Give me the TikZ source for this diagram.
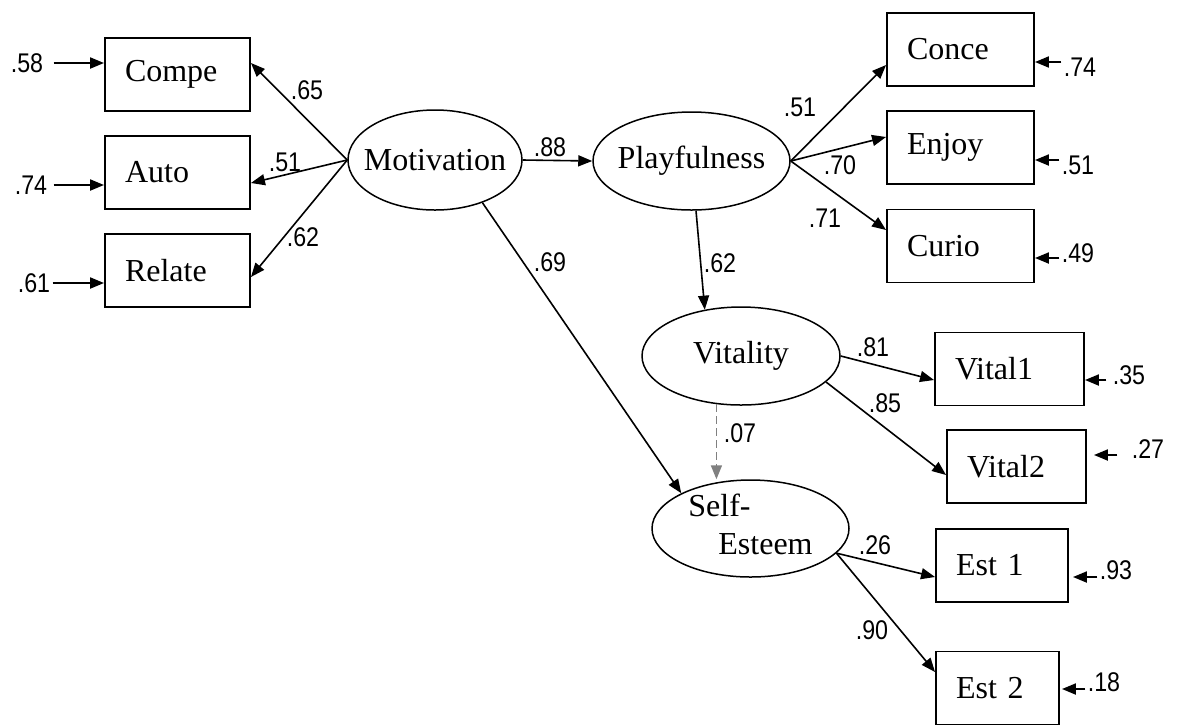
\documentclass[tikz,border=0pt]{standalone}
\usepackage{fontspec}
\setmainfont{Liberation Serif}
\newfontfamily\numfont[FakeStretch=0.86]{Liberation Sans}
\usetikzlibrary{arrows.meta,shapes.geometric,calc}
\begin{document}
\begin{tikzpicture}[x=0.5pt,y=-0.5pt,
  font=\fontsize{16}{19}\selectfont,
  box/.style={draw, rectangle, line width=0.95pt, minimum height=36.5pt, inner xsep=10pt, inner ysep=0pt, align=left},
  latent/.style={draw, ellipse, line width=0.75pt, inner sep=0pt},
  num/.style={font=\numfont\fontsize{13.5}{15}\selectfont, inner sep=1pt},
  arr/.style={-{Triangle[length=7pt,width=5.5pt]}, line width=0.8pt},
  err/.style={-{Triangle[length=7pt,width=5.5pt]}, line width=1pt},
]
\useasboundingbox (0,0) rectangle (1177,725);

% observed variables
\node[box, text width=52.5pt] (Compe)  at (177.5,74.5)  {Compe};
\node[box, text width=52.5pt] (Auto)   at (177.5,172.5) {Auto};
\node[box, text width=52.5pt] (Relate) at (177.5,270.5) {Relate};
\node[box, text width=53.5pt] (Conce)  at (960.5,49.5)  {Conce};
\node[box, text width=53.5pt] (Enjoy)  at (960.5,147.5) {Enjoy};
\node[box, text width=53.5pt] (Curio)  at (960.5,246)   {Curio};
\node[box, text width=54.5pt] (Vital1) at (1009.5,369)  {Vital1};
\node[box, text width=49.5pt] (Vital2) at (1016.5,466.5) {Vital2};
\node[box, text width=46pt]   (Est1)   at (1002,565.5)  {Est 1};
\node[box, text width=41.5pt] (Est2)   at (997.5,688)   {Est 2};

% latent variables
\node[latent, minimum width=87pt, minimum height=50pt] (Motivation) at (435,160) {\makebox[0pt]{Motivation}};
\node[latent, minimum width=98.5pt, minimum height=49pt] (Playfulness) at (691.5,161) {\makebox[0pt]{Playfulness}};
\node[latent, minimum width=99pt, minimum height=49pt] (Vitality) at (741,356) {\makebox[0pt]{Vitality}};
\node[latent, minimum width=98.5pt, minimum height=48.5pt] (SelfEsteem) at (750.5,528.5)
  {\makebox[0pt]{\raisebox{0pt}[9pt][1pt]{\begin{tabular}[c]{@{}l@{}}Self-\\\hspace*{15pt}Esteem\end{tabular}}}};

% arrow tip coordinates
\coordinate (tCompe)  at ($(Compe.east)+(0,-11.5)$);
\coordinate (tAuto)   at ($(Auto.east)+(0,10.5)$);
\coordinate (tRelate) at ($(Relate.east)+(0,6.5)$);
\coordinate (tConce)  at ($(Conce.west)+(0,15.5)$);
\coordinate (tEnjoy)  at ($(Enjoy.west)+(0,-10.5)$);
\coordinate (tCurio)  at ($(Curio.west)+(0,-16)$);
\coordinate (tVital1) at ($(Vital1.west)+(0,11)$);
\coordinate (tVital2) at ($(Vital2.west)+(0,8.5)$);
\coordinate (tEst1)   at ($(Est1.west)+(0,11.5)$);
\coordinate (tEst2)   at ($(Est2.west)+(0,-16)$);

% structural / loading paths
\draw[arr] (Motivation.west) -- (tCompe);
\draw[arr] (Motivation.west) -- (tAuto);
\draw[arr] (Motivation.west) -- (tRelate);
\draw[arr] (Motivation.east) -- (Playfulness.west);
\draw[arr] (Playfulness.east) -- (tConce);
\draw[arr] (Playfulness.east) -- (tEnjoy);
\draw[arr] (Playfulness.east) -- (tCurio);
\draw[arr] ($(Playfulness.south)+(4.5,0)$) -- (Vitality.128);
\draw[arr, gray, dash pattern=on 4pt off 2pt] (Vitality.243) -- (Vitality.243 |- SelfEsteem.north);
\draw[arr] (Motivation.-42) -- (SelfEsteem.153);
\draw[arr] (Vitality.east) -- (tVital1);
\draw[arr] (Vitality.-17) -- (tVital2);
\draw[arr] (SelfEsteem.-16) -- (tEst1);
\draw[arr] (SelfEsteem.-16) -- (tEst2);

% path coefficients
\node[num] (l65) at (307,90)  {.65};
\node[num] (l51) at (285,162) {.51};
\node[num] (l62) at (303,237) {.62};
\node[num] (l88) at (550,147) {.88};
\node[num] (p51) at (800,107) {.51};
\node[num] (p70) at (840,165) {.70};
\node[num] (p71) at (825,218) {.71};
\node[num] (p62) at (720,263) {.62};
\node[num] (l69) at (550,262) {.69};
\node[num] (l07) at (740,433) {.07};
\node[num] (l81) at (873,347) {.81};
\node[num] (l85) at (885,403) {.85};
\node[num] (l26) at (875,545) {.26};
\node[num] (l90) at (872,630) {.90};

% error terms
\node[num] (e58) at (27,63)  {.58};
\node[num] (e74) at (31,185) {.74};
\node[num] (e61) at (34,283) {.61};
\coordinate (xCompe)  at ($(Compe.west)+(0,-11.5)$);
\coordinate (xAuto)   at ($(Auto.west)+(0,12.5)$);
\coordinate (xRelate) at ($(Relate.west)+(0,12.5)$);
\draw[err, shorten <=4pt] (e58.east |- xCompe) -- (xCompe);
\draw[err, shorten <=2pt] (e74.east |- xAuto) -- (xAuto);
\draw[err] (e61.east |- xRelate) -- (xRelate);

\node[num] (r74) at (1080,67)  {.74};
\node[num] (r51) at (1078,165) {.51};
\node[num] (r49) at (1078,253) {.49};
\node[num] (r35) at (1129,375) {.35};
\node[num] (r27) at (1148,449) {.27};
\node[num] (r93) at (1116,570) {.93};
\node[num] (r18) at (1104,682) {.18};
\coordinate (xConce)  at ($(Conce.east)+(0,12.5)$);
\coordinate (xEnjoy)  at ($(Enjoy.east)+(0,12.5)$);
\coordinate (xCurio)  at ($(Curio.east)+(0,12)$);
\coordinate (xVital1) at ($(Vital1.east)+(0,11)$);
\coordinate (xVital2) at ($(Vital2.east)+(7,-11.5)$);
\coordinate (xEst1)   at ($(Est1.east)+(4,11.5)$);
\coordinate (xEst2)   at ($(Est2.east)+(2,1)$);
\draw[err] (r74.west |- xConce) -- (xConce);
\draw[err] (r51.west |- xEnjoy) -- (xEnjoy);
\draw[err] (r49.west |- xCurio) -- (xCurio);
\draw[err, shorten <=2pt] (r35.west |- xVital1) -- (xVital1);
\draw[err, shorten <=6pt] (r27.west |- xVital2) -- (xVital2);
\draw[err] (r93.west |- xEst1) -- (xEst1);
\draw[err] (r18.west |- xEst2) -- (xEst2);
\end{tikzpicture}
\end{document}
